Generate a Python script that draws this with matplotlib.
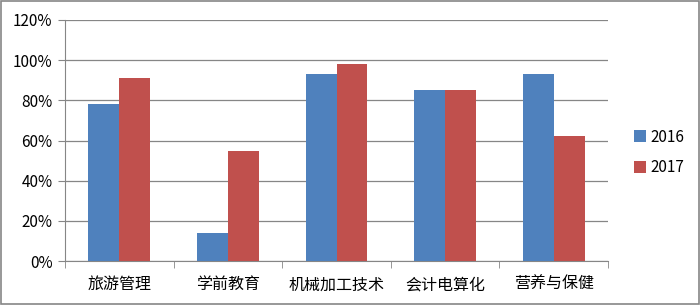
import matplotlib.pyplot as plt
import numpy as np
from matplotlib.ticker import FuncFormatter

plt.rcParams['font.family'] = ['Noto Sans CJK SC', 'DejaVu Sans']

categories = ['旅游管理', '学前教育', '机械加工技术', '会计电算化', '营养与保健']
v2016 = [78, 14, 93, 85, 93]
v2017 = [91, 55, 98, 85, 62]

fig = plt.figure(figsize=(7, 3.05), dpi=100)
ax = fig.add_axes([65 / 700, 44 / 305, 543 / 700, 241 / 305])

x = np.arange(len(categories))
w = 0.285
ax.bar(x - w / 2, v2016, w, color='#4F81BD', label='2016', zorder=3)
ax.bar(x + w / 2, v2017, w, color='#C0504D', label='2017', zorder=3)

ax.set_xlim(-0.5, len(categories) - 0.5)
ax.set_ylim(0, 120)
ax.set_yticks(range(0, 121, 20))
ax.yaxis.set_major_formatter(FuncFormatter(lambda v, p: f'{v:.0f}%'))
ax.grid(axis='y', color='#868686', linewidth=0.9, zorder=0)

# category labels centred, ticks on boundaries
ax.set_xticks(x)
ax.set_xticklabels(categories, fontsize=11.5)
ax.tick_params(axis='x', length=0, pad=11)
ax.set_xticks(np.arange(-0.5, len(categories)), minor=True)
ax.tick_params(axis='x', which='minor', length=5, color='#868686')
ax.tick_params(axis='y', length=5, color='#868686', labelsize=11, pad=4)

for s in ['top', 'right']:
    ax.spines[s].set_visible(False)
for s in ['left', 'bottom']:
    ax.spines[s].set_color('#868686')

fig.legend(loc='center left', bbox_to_anchor=(620 / 700, 0.5), frameon=False,
           fontsize=11, handlelength=0.8, handleheight=0.8, handletextpad=0.3,
           labelspacing=0.9)

fig.patches.append(plt.Rectangle((0.001, 0.002), 0.997, 0.995, transform=fig.transFigure,
                                 fill=False, edgecolor='#868686', linewidth=1.2))

fig.savefig('out.png', dpi=100)
